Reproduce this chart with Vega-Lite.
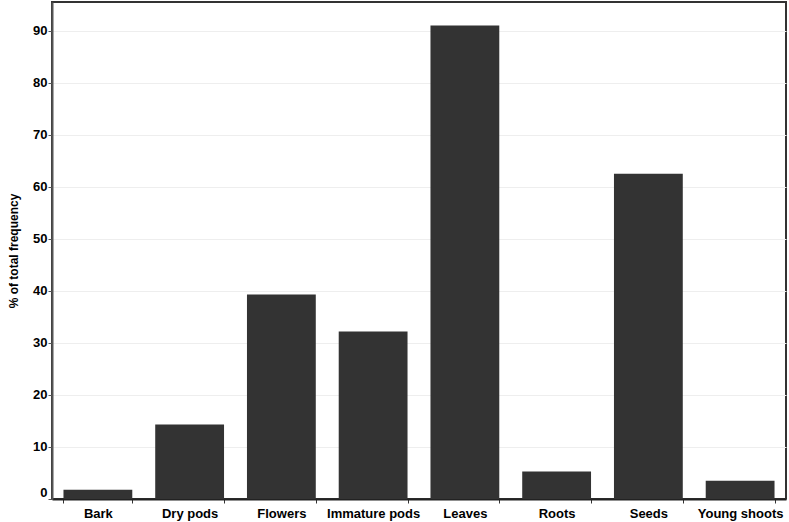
{
  "$schema": "https://vega.github.io/schema/vega-lite/v6.json",
  "autosize": {"type": "none"},
  "width": 734,
  "height": 497,
  "padding": {"left": 52, "top": 2, "right": 3, "bottom": 23},
  "background": "white",
  "data": {"values": [
    {"part": "Bark", "pct": 1.8},
    {"part": "Dry pods", "pct": 14.3},
    {"part": "Flowers", "pct": 39.3},
    {"part": "Immature pods", "pct": 32.2},
    {"part": "Leaves", "pct": 91.0},
    {"part": "Roots", "pct": 5.3},
    {"part": "Seeds", "pct": 62.5},
    {"part": "Young shoots", "pct": 3.5}
  ]},
  "mark": {"type": "bar", "color": "#333333"},
  "encoding": {
    "x": {
      "field": "part", "type": "nominal", "sort": null,
      "scale": {"paddingInner": 0.25, "paddingOuter": 0.125},
      "axis": {
        "title": null, "labelAngle": 0, "tickBand": "extent", "tickSize": 4,
        "tickColor": "#333", "domainColor": "#222", "domainWidth": 2,
        "labelFont": "Liberation Sans", "labelFontWeight": "bold", "labelFontSize": 13,
        "labelColor": "#000", "labelPadding": 4
      }
    },
    "y": {
      "field": "pct", "type": "quantitative",
      "scale": {"domain": [0, 95.5], "nice": false},
      "axis": {
        "title": "% of total frequency", "values": [0,10,20,30,40,50,60,70,80,90],
        "grid": true, "gridColor": "#eeeeee", "tickSize": 4, "tickColor": "#555",
        "domainColor": "#555", "domainWidth": 2,
        "labelFont": "Liberation Sans", "labelFontWeight": "bold", "labelFontSize": 13,
        "labelColor": "#000", "labelPadding": 1, "labelFlush": true,
        "titleFont": "Liberation Sans", "titleFontWeight": "bold", "titleFontSize": 12,
        "titleColor": "#000", "titlePadding": 12
      }
    }
  },
  "config": {"view": {"stroke": "#333", "strokeWidth": 2}}
}
